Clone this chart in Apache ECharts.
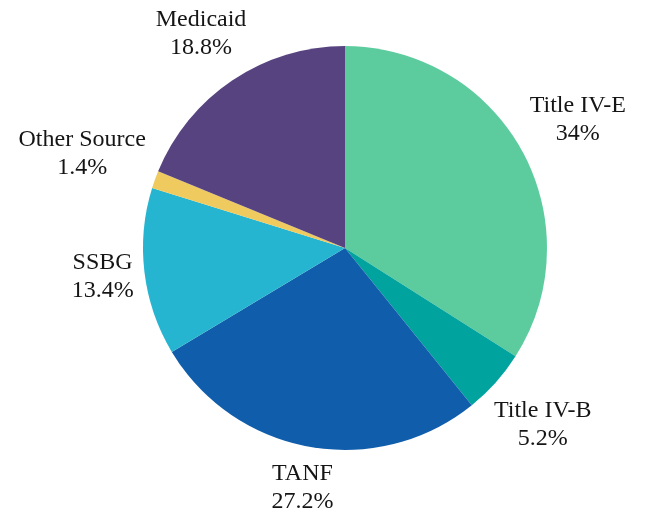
<!DOCTYPE html>
<html>
<head>
<meta charset="utf-8">
<script src="https://cdn.jsdelivr.net/npm/echarts@6/dist/echarts.min.js"></script>
<style>
html,body{margin:0;padding:0;background:#fff;}
#main{width:645px;height:508px;}
</style>
</head>
<body>
<div id="main"></div>
<script>
var names = ['Title IV-E','Title IV-B','TANF','SSBG','Other Source','Medicaid'];
var values = [34, 5.2, 27.2, 13.4, 1.4, 18.8];
var labels = ['34%','5.2%','27.2%','13.4%','1.4%','18.8%'];
var colors = ['#5ccc9e','#00a39d','#105eab','#26b5d0','#efcb5f','#57437f'];

var cx = 345, cy = 248, r = 202, gap = 8;
var total = values.reduce(function(a,b){return a+b;},0);

// mid angle of each slice, clockwise from top
var mids = [];
var acc = 0;
for(var i=0;i<values.length;i++){
	mids.push((acc + values[i]/2) / total * Math.PI * 2);
	acc += values[i];
}

var data = [];
for(var i=0;i<names.length;i++){
	data.push({name:names[i], value:values[i], pct:labels[i], itemStyle:{color:colors[i]}});
}

var chart = echarts.init(document.getElementById('main'));
chart.setOption({
	animation:false,
	series:[{
		type:'pie',
		center:[cx,cy],
		radius:r,
		startAngle:90,
		clockwise:true,
		data:data,
		label:{
			show:true,
			position:'outside',
			formatter:function(p){ return p.name + '\n' + p.data.pct; },
			fontFamily:'Liberation Serif',
			fontSize:24,
			lineHeight:28,
			color:'#151515',
			align:'center',
			overflow:'none'
		},
		labelLine:{show:false},
		labelLayout:function(p){
			var a = mids[p.dataIndex];
			var dx = Math.sin(a), dy = -Math.cos(a);
			var w = p.labelRect.width, h = p.labelRect.height;
			var d = r + gap + Math.abs(dx)*w/2 + Math.abs(dy)*h/2;
			return {x: cx + dx*d, y: cy + dy*d, align:'center', verticalAlign:'middle'};
		}
	}]
});
</script>
</body>
</html>
